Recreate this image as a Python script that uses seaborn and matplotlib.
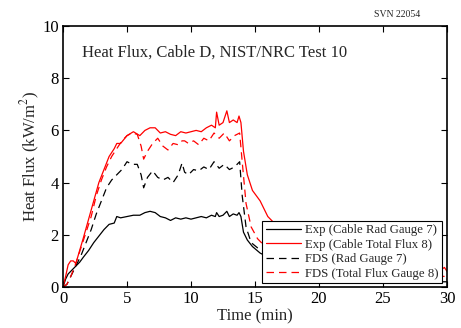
import matplotlib
matplotlib.use("Agg")
import matplotlib.pyplot as plt
import pandas as pd
import seaborn as sns

# Experimental data (min, kW/m2)
exp_time = [0, 0.2, 0.4, 0.6, 0.8, 1.0, 1.3, 1.6, 2.0, 2.4, 2.8, 3.2, 3.6,
            4.0, 4.2, 4.5, 5.0, 5.5, 6.0, 6.4, 6.8, 7.2, 7.6, 8.0, 8.4, 8.8,
            9.2, 9.6, 10.0, 10.4, 10.8, 11.2, 11.6, 11.9, 12.0, 12.2, 12.5,
            12.8, 13.0, 13.3, 13.6, 13.75, 13.9, 14.1, 14.4, 14.8, 15.4,
            16.0, 17.0, 18.0, 19.0, 20.0, 22.0, 24.0, 26.0, 28.0, 29.5,
            29.8, 30.0]
exp_rad_7 = [0, 0.3, 0.5, 0.6, 0.7, 0.8, 0.95, 1.15, 1.4, 1.7, 1.95, 2.2,
             2.4, 2.45, 2.7, 2.65, 2.7, 2.75, 2.75, 2.85, 2.9, 2.85, 2.7,
             2.65, 2.55, 2.65, 2.6, 2.65, 2.6, 2.65, 2.7, 2.65, 2.75, 2.7,
             2.85, 2.7, 2.75, 2.9, 2.7, 2.8, 2.75, 2.85, 2.7, 2.1, 1.8, 1.55,
             1.3, 1.15, 1.0, 0.85, 0.75, 0.65, 0.5, 0.4, 0.3, 0.25, 0.2,
             0.2, 0.2]
exp_total_8 = [0, 0.4, 0.85, 1.0, 1.0, 0.9, 1.4, 1.9, 2.6, 3.3, 4.0, 4.5,
               5.0, 5.3, 5.5, 5.5, 5.8, 5.95, 5.8, 6.0, 6.1, 6.1, 5.9, 5.95,
               5.85, 5.8, 5.95, 5.9, 5.95, 6.0, 5.95, 6.1, 6.2, 6.1, 6.7,
               6.2, 6.3, 6.75, 6.3, 6.4, 6.3, 6.55, 6.3, 5.2, 4.3, 3.7, 3.3,
               2.7, 2.2, 1.8, 1.55, 1.35, 1.1, 0.9, 0.8, 0.7, 0.65, 0.75, 0.6]

# FDS predictions
fds_time = [0, 0.3, 0.6, 1.0, 1.4, 1.8, 2.2, 2.6, 3.0, 3.4, 3.8, 4.2, 4.6,
            5.0, 5.4, 5.8, 6.1, 6.3, 6.6, 7.0, 7.4, 7.8, 8.2, 8.6, 9.0, 9.3,
            9.5, 9.8, 10.2, 10.6, 11.0, 11.4, 11.8, 12.2, 12.6, 13.0, 13.4,
            13.8, 14.0, 14.3, 14.7, 15.2, 15.7, 16.5, 18, 20, 22, 24, 26,
            28, 30]
fds_rad_7 = [0, 0.1, 0.4, 0.8, 1.2, 1.7, 2.2, 2.8, 3.3, 3.8, 4.1, 4.3, 4.5,
             4.8, 4.7, 4.7, 4.3, 3.8, 4.2, 4.45, 4.2, 4.1, 4.2, 4.0, 4.3,
             4.75, 4.4, 4.3, 4.5, 4.45, 4.6, 4.5, 4.8, 4.55, 4.7, 4.5, 4.6,
             4.8, 3.5, 2.3, 1.7, 1.5, 1.35, 1.2, 1.0, 0.8, 0.6, 0.5, 0.4,
             0.35, 0.3]
fds_total_8 = [0, 0.1, 0.4, 0.9, 1.5, 2.1, 2.7, 3.5, 4.1, 4.6, 5.0, 5.3,
               5.6, 5.8, 5.9, 5.85, 5.4, 4.9, 5.2, 5.5, 5.7, 5.4, 5.25, 5.5,
               5.45, 5.6, 5.6, 5.5, 5.6, 5.45, 5.7, 5.6, 5.9, 5.7, 5.9, 5.6,
               5.8, 5.9, 4.8, 3.2, 2.3, 1.85, 1.6, 1.4, 1.15, 0.95, 0.75,
               0.6, 0.5, 0.45, 0.4]

exp = pd.DataFrame({"time": exp_time, "rad": exp_rad_7, "total": exp_total_8})
fds = pd.DataFrame({"time": fds_time, "rad": fds_rad_7, "total": fds_total_8})

sns.set_theme(style="ticks")
plt.rcParams["font.family"] = ["Liberation Serif", "DejaVu Serif"]
plt.rcParams["mathtext.fontset"] = "stix"

figure = plt.figure(figsize=(4.61, 3.28), dpi=100)
ax = figure.add_axes([0.1367, 0.125, 0.8329, 0.7957])

lw = 0.9
dash = (6, 4)
sns.lineplot(data=exp, x="time", y="rad", ax=ax, color="black", lw=lw,
             label="Exp (Cable Rad Gauge 7)")
sns.lineplot(data=exp, x="time", y="total", ax=ax, color="red", lw=lw,
             label="Exp (Cable Total Flux 8)")
sns.lineplot(data=fds, x="time", y="rad", ax=ax, color="black", lw=lw,
             label="FDS (Rad Gauge 7)")
sns.lineplot(data=fds, x="time", y="total", ax=ax, color="red", lw=lw,
             label="FDS (Total Flux Gauge 8)")
for line in ax.lines[2:]:
    line.set_dashes(dash)

ax.set_xlim(0, 30)
ax.set_ylim(0, 10)
ax.set_xticks([0, 5, 10, 15, 20, 25, 30])
ax.set_yticks([0, 2, 4, 6, 8, 10])
ax.tick_params(direction="in", top=True, right=True, length=4, width=0.8,
               labelsize=12, pad=3, colors="black")
for spine in ax.spines.values():
    spine.set_linewidth(1.2)
    spine.set_color("black")

ax.set_xlabel("Time (min)", fontsize=12, labelpad=1)
ax.set_ylabel("Heat Flux (kW/m$^2$)", fontsize=12, labelpad=0)

ax.text(0.049, 0.897, "Heat Flux, Cable D, NIST/NRC Test 10",
        transform=ax.transAxes, fontsize=12, va="center", ha="left")
figure.text(0.912, 0.957, "SVN 22054", fontsize=7, ha="right", va="center")

legend = ax.legend(loc="lower right", bbox_to_anchor=(0.987, 0.015),
                   borderaxespad=0, fontsize=9.2, fancybox=False,
                   edgecolor="black", framealpha=1, handlelength=2.8,
                   labelspacing=0.2, borderpad=0.25, handletextpad=0.3)
legend.get_frame().set_linewidth(0.8)
for line in legend.get_lines()[2:]:
    line.set_dashes(dash)

plt.savefig("out.png", dpi=100)
